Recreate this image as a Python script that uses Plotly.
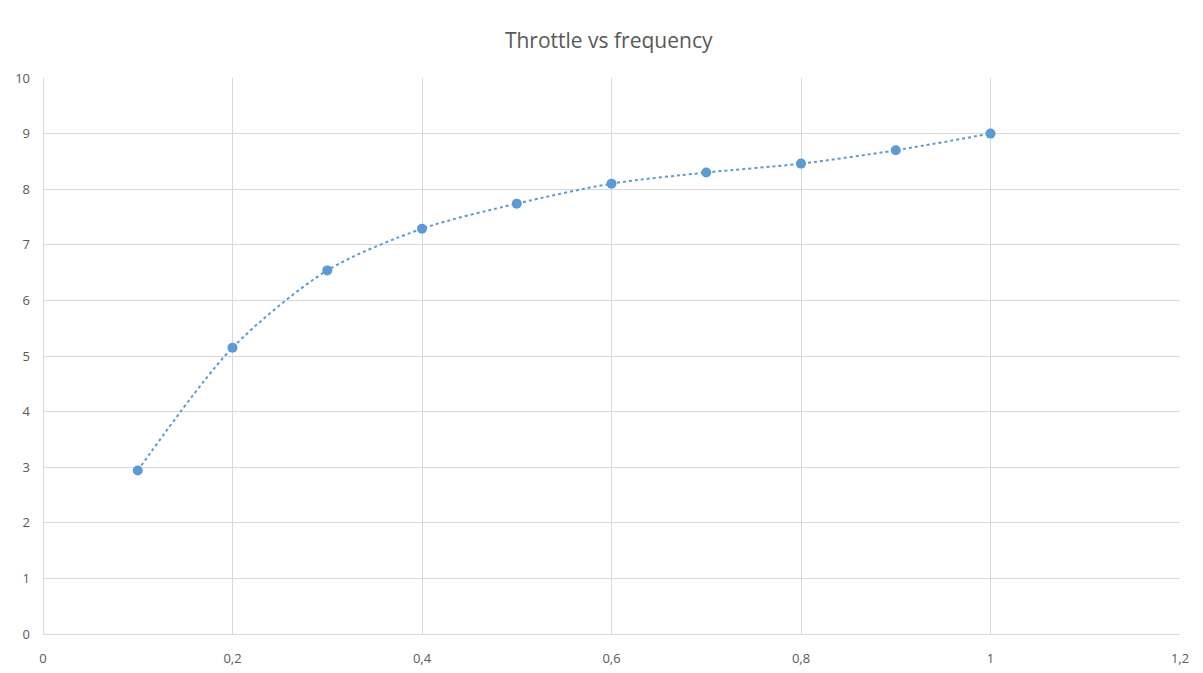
import plotly.graph_objects as go

throttle = [0.1, 0.2, 0.3, 0.4, 0.5, 0.6, 0.7, 0.8, 0.9, 1.0]
frequency = [2.94, 5.15, 6.54, 7.29, 7.74, 8.10, 8.30, 8.46, 8.70, 9.00]
title_text = "Throttle vs frequency"

fig = go.Figure()
fig.add_trace(go.Scatter(
    x=throttle, y=frequency, mode="lines+markers",
    line=dict(color="#5B9BD5", width=2, dash="dot", shape="spline", smoothing=0.8),
    marker=dict(color="#5B9BD5", size=10),
    showlegend=False,
))

fig.update_layout(
    width=1203, height=673,
    paper_bgcolor="white", plot_bgcolor="white",
    margin=dict(l=43, r=23, t=78, b=39),
    separators=", ",
    title=dict(text=title_text, x=0.506, xanchor="center", y=0.94, yanchor="middle",
               font=dict(family="Open Sans", size=21, color="#595959")),
    font=dict(family="Open Sans", size=13, color="#595959"),
)
fig.update_xaxes(range=[0, 1.2], tickvals=[0, 0.2, 0.4, 0.6, 0.8, 1.0, 1.2],
                 showgrid=True, gridcolor="#d9d9d9", gridwidth=1,
                 zeroline=True, zerolinecolor="#d9d9d9", zerolinewidth=1,
                 showline=False, ticks="", ticklabelstandoff=15, automargin=False,
                 tickfont=dict(size=13, color="#595959"))
fig.update_yaxes(range=[0, 10], dtick=1,
                 showgrid=True, gridcolor="#d9d9d9", gridwidth=1,
                 zeroline=True, zerolinecolor="#d9d9d9", zerolinewidth=1,
                 showline=False, ticks="", ticklabelstandoff=12, automargin=False,
                 tickfont=dict(size=13, color="#595959"))

fig.write_html("out.html")
